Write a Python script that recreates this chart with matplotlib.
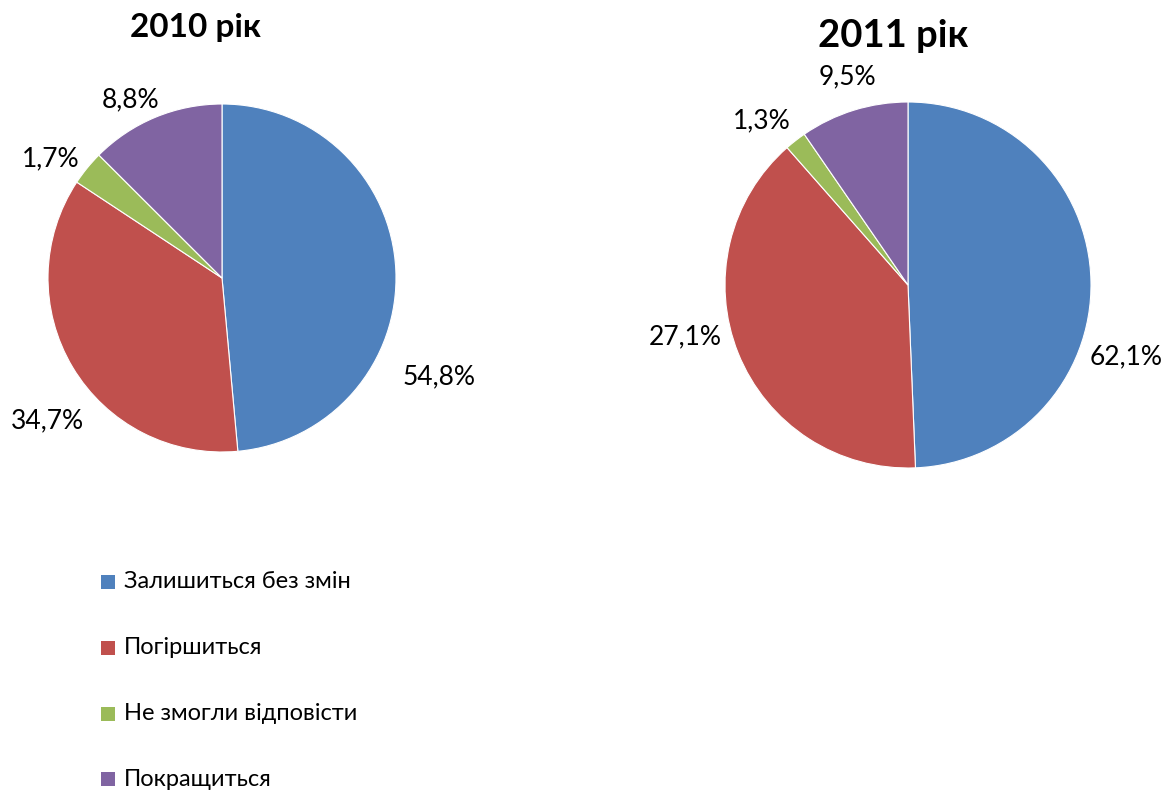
import matplotlib
matplotlib.use("Agg")
import matplotlib.pyplot as plt
from matplotlib.patches import Rectangle

plt.rcParams['font.family'] = ['Lato', 'Noto Sans', 'DejaVu Sans']

categories = ["Залишиться без змін", "Погіршиться", "Не змогли відповісти", "Покращиться"]
colors = ["#4F81BD", "#C0504D", "#9BBB59", "#8064A2"]

# slice sizes as drawn in the reference
slices_2010 = [48.5, 35.7, 3.2, 12.5]
slices_2011 = [49.4, 39.2, 1.9, 9.6]
# data labels as printed in the reference
labels_2010 = ["54,8%", "34,7%", "1,7%", "8,8%"]
labels_2011 = ["62,1%", "27,1%", "1,3%", "9,5%"]
titles = ["2010 рік", "2011 рік"]

W, H = 1173, 791
fig = plt.figure(figsize=(W / 100, H / 100), dpi=100)
ax = fig.add_axes([0, 0, 1, 1])

pies = [
    dict(values=slices_2010, labels=labels_2010, center=(222, 278), radius=174,
         label_pos=[(439, 377), (47, 421), (51, 159), (131, 100)],
         title=titles[0], title_pos=(196, 27), title_size=24),
    dict(values=slices_2011, labels=labels_2011, center=(908, 285), radius=183,
         label_pos=[(1126, 357), (685, 337), (762, 121), (847, 77)],
         title=titles[1], title_pos=(893, 36), title_size=27.5),
]

for p in pies:
    # y axis is inverted below, so data-counterclockwise from -90 reads as clockwise from the top
    ax.pie(p["values"], colors=colors, startangle=-90, counterclock=True,
           center=p["center"], radius=p["radius"],
           wedgeprops=dict(edgecolor="white", linewidth=0.8))
    for txt, pos in zip(p["labels"], p["label_pos"]):
        ax.text(pos[0], pos[1], txt, ha='center', va='center', fontsize=19, color='black')
    ax.text(p["title_pos"][0], p["title_pos"][1], p["title"], ha='center', va='center',
            fontsize=p["title_size"], fontweight='bold', color='black')

ax.set_xlim(0, W)
ax.set_ylim(H, 0)
ax.set_aspect('equal')
ax.axis('off')

leg_y = [582, 648, 714, 779]
for c, name, y in zip(colors, categories, leg_y):
    ax.add_patch(Rectangle((101, y - 7), 14, 14, facecolor=c, edgecolor='none'))
    ax.text(124, y, name, ha='left', va='center', fontsize=17, color='black')

fig.savefig("out.png", dpi=100)
